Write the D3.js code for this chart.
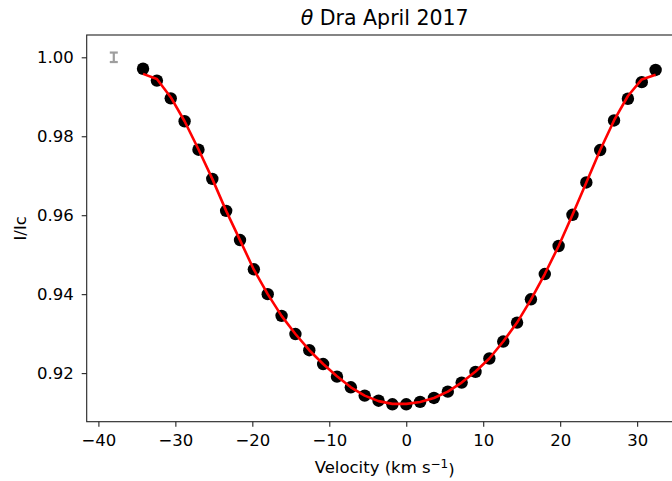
<!DOCTYPE html>
<html>
<head>
<meta charset="utf-8">
<script src="https://cdn.jsdelivr.net/npm/d3@7"></script>
<style>
  body { margin: 0; background: #fff; }
  svg { font-family: "DejaVu Sans", sans-serif; }
</style>
</head>
<body>
<figure id="profile" style="margin:0"></figure>
<script>
// observed LSD profile
const velocity = [-34.2, -32.4, -30.6, -28.8, -27.0, -25.2, -23.4, -21.6, -19.8, -18.0,
  -16.2, -14.4, -12.6, -10.8, -9.0, -7.2, -5.4, -3.6, -1.8, 0.0,
  1.8, 3.6, 5.4, 7.2, 9.0, 10.8, 12.6, 14.4, 16.2, 18.0,
  19.8, 21.6, 23.4, 25.2, 27.0, 28.8, 30.6, 32.4];
const intensity = [0.9971, 0.9941, 0.9896, 0.9838, 0.9766, 0.9692, 0.9611, 0.9537, 0.9463, 0.9400,
  0.9345, 0.9299, 0.9258, 0.9223, 0.9191, 0.9164, 0.9143, 0.9130, 0.9121, 0.9121,
  0.9127, 0.9137, 0.9153, 0.9176, 0.9203, 0.9237, 0.9280, 0.9328, 0.9387, 0.9451,
  0.9522, 0.9601, 0.9683, 0.9765, 0.9840, 0.9895, 0.9937, 0.9968];
// fitted model
const model = [0.9958, 0.9945, 0.9899, 0.9838, 0.9767, 0.9692, 0.9611, 0.9537, 0.9462, 0.9400,
  0.9345, 0.9299, 0.9258, 0.9223, 0.9192, 0.9164, 0.9143, 0.9129, 0.9122, 0.9122,
  0.9127, 0.9137, 0.9153, 0.9176, 0.9204, 0.9237, 0.9280, 0.9328, 0.9386, 0.9451,
  0.9522, 0.9601, 0.9683, 0.9765, 0.9840, 0.9902, 0.9944, 0.9956];
// typical error bar
const errX = [-38];
const errY = [1.0];
const errSize = [0.0012];

const xTicks = [-40, -30, -20, -10, 0, 10, 20, 30];
const yTicks = [0.92, 0.94, 0.96, 0.98, 1.00];

const width = 672, height = 481;
const plotLeft = 86.7, plotRight = 682.7, plotTop = 35, plotBottom = 421.7;

const svg = d3.select("figure#profile")
  .append("svg")
  .attr("width", width)
  .attr("height", height);

const x = d3.scaleLinear()
  .domain([-41.52, 35.92])
  .range([plotLeft, plotRight]);

const y = d3.scaleLinear()
  .domain([0.90769, 1.00565])
  .range([plotBottom, plotTop]);

// axes
const xAxis = svg.append("g")
  .attr("transform", "translate(0," + plotBottom + ")")
  .call(d3.axisBottom(x).tickValues(xTicks).tickSize(5).tickPadding(4).tickFormat(d3.format("d")));
const yAxis = svg.append("g")
  .attr("transform", "translate(" + plotLeft + ",0)")
  .call(d3.axisLeft(y).tickValues(yTicks).tickSize(5).tickPadding(8).tickFormat(d3.format(".2f")));

[xAxis, yAxis].forEach(g => {
  g.select(".domain").remove();
  g.selectAll(".tick line").attr("stroke", "#222").attr("stroke-width", 1.1);
  g.selectAll(".tick text").attr("fill", "#000").style("font-size", "16.5px").style("font-family", "DejaVu Sans");
});
xAxis.selectAll(".tick text").attr("dy", "0.92em");

// frame
svg.append("rect")
  .attr("x", plotLeft).attr("y", plotTop)
  .attr("width", plotRight - plotLeft).attr("height", plotBottom - plotTop)
  .attr("fill", "none").attr("stroke", "#222").attr("stroke-width", 1.1);

// error bar
const eb = svg.append("g").attr("stroke", "#9e9e9e").attr("stroke-width", 2.2);
errX.forEach((ex, i) => {
  eb.append("line").attr("x1", x(ex)).attr("x2", x(ex))
    .attr("y1", y(errY[i] - errSize[i])).attr("y2", y(errY[i] + errSize[i]));
  [errY[i] - errSize[i], errY[i] + errSize[i]].forEach(v => {
    eb.append("line").attr("x1", x(ex) - 4).attr("x2", x(ex) + 4)
      .attr("y1", y(v)).attr("y2", y(v));
  });
});

// dots
const pts = velocity.map((v, i) => ({ v: v, i: intensity[i] }));
svg.append("g").selectAll("circle")
  .data(pts)
  .enter()
  .append("circle")
  .attr("cx", d => x(d.v))
  .attr("cy", d => y(d.i))
  .attr("r", 6.2)
  .style("fill", "#000");

// model line
const line = d3.line()
  .x((d, i) => x(velocity[i]))
  .y(d => y(d));
svg.append("path")
  .datum(model)
  .attr("d", line)
  .attr("fill", "none")
  .attr("stroke", "#ff0000")
  .attr("stroke-width", 2.6)
  .attr("stroke-linejoin", "round");

// labels
const title = svg.append("text")
  .attr("x", (plotLeft + plotRight) / 2)
  .attr("y", 25)
  .attr("text-anchor", "middle")
  .style("font-size", "20.5px");
title.append("tspan").style("font-style", "italic").text("θ");
title.append("tspan").text(" Dra April 2017");

const xl = svg.append("text")
  .attr("x", (plotLeft + plotRight) / 2)
  .attr("y", 473)
  .attr("text-anchor", "middle")
  .style("font-size", "16.5px");
xl.append("tspan").text("Velocity (km s");
xl.append("tspan").attr("dy", "-0.45em").style("font-size", "12px").text("−1");
xl.append("tspan").attr("dy", "0.45em").text(")");

svg.append("text")
  .attr("transform", "translate(26," + (plotTop + plotBottom) / 2 + ") rotate(-90)")
  .attr("text-anchor", "middle")
  .style("font-size", "16.5px")
  .text("I/Ic");
</script>
</body>
</html>
